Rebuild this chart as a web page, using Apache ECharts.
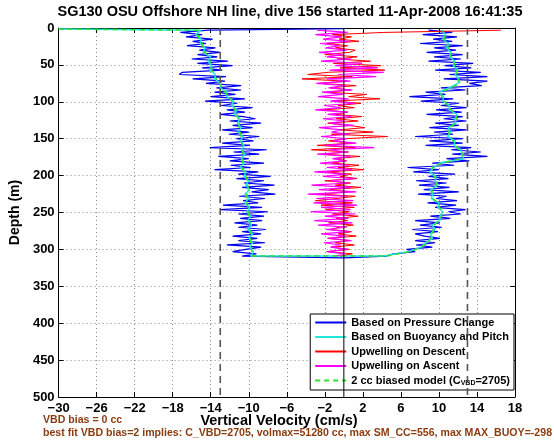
<!DOCTYPE html>
<html><head><meta charset="utf-8">
<script src="https://cdn.jsdelivr.net/npm/echarts@6/dist/echarts.min.js"></script>
<style>html,body{margin:0;padding:0;background:#fff}#c{width:554px;height:442px}</style>
</head><body><div id="c"></div><script>
// ---------- data ----------
const titleText = 'SG130 OSU Offshore NH line, dive 156 started 11-Apr-2008 16:41:35';
const xAxisTitle = 'Vertical Velocity (cm/s)';
const xTicks = [-30, -26, -22, -18, -14, -10, -6, -2, 2, 6, 10, 14, 18];
const yTicks = [0, 50, 100, 150, 200, 250, 300, 350, 400, 450, 500];
const seriesNames = ['Based on Pressure Change', 'Based on Buoyancy and Pitch', 'Upwelling on Descent', 'Upwelling on Ascent', '2 cc biased model (C_VBD=2705)'];
const refLineVels = [-13, 0, 13];
const noteLines = ['VBD bias = 0 cc', 'best fit VBD bias=2 implies: C_VBD=2705, volmax=51280 cc, max SM_CC=556, max MAX_BUOY=-298'];

const depthGrid = [3,6,9,12,15,18,21,24,27,30,33,36,39,42,45,48,51,54,57,60,63,66,69,72,75,78,81,84,87,90,93,96,99,102,105,108,111,114,117,120,123,126,129,132,135,138,141,144,147,150,153,156,159,162,165,168,171,174,177,180,183,186,189,192,195,198,201,204,207,210,213,216,219,222,225,228,231,234,237,240,243,246,249,252,255,258,261,264,267,270,273,276,279,282,285,288,291,294,297,300,303,306,309];
const smoothDepths = [3,9,15,21,27,33,39,45,51,57,63,69,75,81,87,93,99,105,111,117,123,129,135,141,147,153,159,165,171,177,183,189,195,201,207,213,219,225,231,237,243,249,255,261,267,273,279,285,291,297,303,309];

// pressure-change velocity, descent (by depthGrid)
const blueDescent = [-14.2,-17.2,-14.9,-16.6,-13.8,-15.9,-14.5,-16.5,-13.5,-15.2,
 -13.0,-15.4,-13.3,-16.0,-12.2,-15.4,-11.7,-14.9,-12.8,-17.0,
 -17.3,-12.4,-15.9,-12.5,-14.5,-10.8,-13.4,-10.8,-13.6,-11.4,
 -14.0,-10.4,-14.6,-11.2,-12.9,-9.6,-12.3,-10.4,-13.0,-10.6,
 -9.3,-12.0,-8.7,-11.7,-9.6,-12.8,-10.0,-12.1,-8.9,-11.3,
 -9.5,-12.8,-9.9,-14.1,-8.1,-11.6,-8.9,-13.2,-10.0,-12.0,
 -8.4,-11.9,-9.8,-13.6,-9.0,-11.1,-7.7,-11.3,-8.4,-10.5,
 -7.3,-10.7,-7.9,-9.7,-7.2,-11.0,-8.3,-10.6,-9.0,-12.7,
 -8.6,-13.0,-8.0,-11.1,-8.4,-10.9,-8.6,-11.5,-9.1,-11.1,
 -8.2,-10.7,-8.7,-11.7,-9.1,-11.1,-8.3,-12.3,-8.7,-10.3,
 -11.7,-9.2,-10.7];
// pressure-change velocity, ascent (by depthGrid)
const blueAscent = [8.9,11.4,8.3,11.9,9.4,11.4,8.0,12.5,9.5,11.8,
 8.7,12.5,9.5,12.3,8.9,13.6,10.6,13.4,9.6,14.4,
 11.1,15.1,10.5,15.1,13.2,14.5,10.2,12.8,8.6,10.7,
 6.9,11.5,8.1,12.1,10.2,12.9,9.7,12.4,8.7,12.5,
 10.5,12.9,9.6,12.1,9.0,12.9,9.5,11.5,7.5,12.5,
 9.0,12.5,8.6,13.4,11.3,14.4,11.4,15.1,10.8,13.2,
 9.3,11.6,6.7,10.0,7.3,11.7,8.9,11.0,7.6,10.8,
 7.9,11.1,8.4,12.1,7.8,10.8,9.7,11.9,8.8,11.8,
 9.6,12.8,11.0,12.3,9.1,11.2,7.5,10.1,8.0,10.3,
 7.2,9.9,7.5,8.5,10.1,7.5,9.6,7.6,9.3,6.6,
 7.5,5.2,4.5];
const blueSurface = [0, 1];      // [velocity, depth]
const blueApex = [0, 311.5];     // [velocity, depth]

// buoyancy & pitch velocity (by smoothDepths)
const cyanDescent = [-15.0,-15.6,-15.0,-15.1,-14.6,-14.8,-14.0,-14.3,-13.9,-14.1,
 -13.5,-13.6,-12.9,-13.0,-12.3,-12.3,-11.6,-11.8,-11.3,-11.5,
 -10.9,-11.2,-10.8,-11.1,-10.6,-10.9,-10.5,-10.8,-10.4,-10.8,
 -10.5,-10.9,-10.3,-10.5,-10.0,-10.3,-9.9,-10.4,-10.0,-10.4,
 -9.9,-10.2,-9.8,-10.1,-9.7,-10.1,-9.6,-10.0,-9.6,-9.9,
 -9.5,-9.8];
const cyanAscent = [10.3,10.7,10.4,11.0,10.8,11.3,11.1,11.7,11.5,12.0,
 11.7,12.1,12.0,11.1,10.0,10.5,10.4,11.1,11.1,11.9,
 11.7,11.8,11.0,11.2,10.9,11.7,11.6,12.3,12.4,12.6,
 10.1,9.5,9.0,9.7,9.6,9.9,9.1,9.4,9.2,10.0,
 9.9,10.4,10.1,10.1,9.3,9.6,9.1,9.3,8.6,8.1,
 6.8,4.2];
const modelDescent = [-15.3,-15.3,-15.2,-14.9,-14.8,-14.6,-14.2,-14.1,-14.0,-13.9,
 -13.6,-13.4,-13.1,-12.8,-12.5,-12.1,-11.8,-11.6,-11.5,-11.3,
 -11.1,-11.0,-11.0,-10.9,-10.8,-10.8,-10.7,-10.6,-10.6,-10.6,
 -10.7,-10.7,-10.5,-10.3,-10.2,-10.1,-10.1,-10.2,-10.2,-10.2,
 -10.1,-10.0,-10.0,-9.9,-9.9,-9.9,-9.8,-9.8,-9.8,-9.7,
 -9.7,-9.7];
const modelAscent = [10.4,10.5,10.6,10.8,11.0,11.1,11.3,11.5,11.7,11.8,
 11.9,12.0,12.2,11.3,10.2,10.3,10.6,10.9,11.3,11.7,
 11.9,11.6,11.2,11.0,11.1,11.5,11.8,12.1,12.6,12.3,
 10.3,9.3,9.2,9.5,9.8,9.7,9.3,9.2,9.4,9.8,
 10.1,10.2,10.3,9.9,9.5,9.4,9.3,9.1,8.8,8.1,
 7.0,4.5];
const smoothSurface = [-30, 1.5]; // [velocity, depth]

// upwelling (by depthGrid)
const upDescent = [16.5,4.2,-1.2,0.8,-0.5,1.6,-1.8,0.4,-0.9,1.2,
 0.6,-2.0,1.4,-0.7,2.8,-1.1,3.9,-0.4,4.3,-1.6,
 -3.8,0.9,-4.4,0.2,-2.6,1.3,-1.4,0.7,-1.9,2.4,
 0.5,3.8,-1.2,1.8,-0.6,1.1,-2.3,0.4,-1.0,1.9,
 -0.8,1.5,-1.7,0.6,2.2,-0.5,3.1,-1.3,4.6,0.2,
 -1.6,0.9,-2.8,1.2,-3.4,0.5,-2.2,1.7,-0.9,0.3,
 -1.3,1.6,-0.6,2.1,-1.8,0.8,-0.4,1.4,-2.0,0.7,
 -0.9,1.8,-1.5,0.5,-2.6,1.2,-0.7,-3.0,0.9,-2.4,
 1.1,-1.9,0.6,-1.2,1.5,-0.8,0.4,-1.6,1.0,-0.5,
 -1.4,0.8,-0.6,1.3,-1.7,0.5,-0.9,1.1,-1.3,0.6,
 -1.8,0.9,-0.4];
const upAscent = [-2.8,0.4,-3.0,-0.2,-2.2,0.6,-2.5,-0.4,-1.9,0.3,
 -2.6,-0.1,-1.8,0.8,-2.4,1.9,-0.9,3.6,-1.5,4.2,
 -0.6,3.4,-1.8,0.7,-2.9,0.2,-1.6,0.9,-2.3,-0.1,
 -2.7,0.5,-1.4,1.2,-2.1,-0.3,-3.0,0.4,-1.7,0.8,
 -2.2,0.1,-1.5,1.0,-2.6,-0.2,-1.3,0.6,-2.4,0.3,
 -1.1,1.3,-2.0,3.2,-1.6,0.4,-2.8,0.7,-1.2,0.2,
 -2.5,0.6,-1.8,0.9,-3.1,0.3,-2.2,1.1,-1.4,0.5,
 -3.4,0.8,-2.6,1.3,-3.8,0.4,-2.9,1.0,-3.2,1.4,
 -2.4,0.7,-3.5,1.2,-2.0,0.5,-3.1,0.9,-2.7,0.3,
 -1.9,0.6,-2.4,0.2,-1.6,0.8,-2.1,-0.3,-1.4,0.4,
 -1.7,0.1,-0.8];

// ---------- build ----------
const pairs = (vals, deps) => vals.map((v, i) => [v, deps[i]]);
const blueData = [blueSurface].concat(pairs(blueDescent, depthGrid), [blueApex], pairs(blueAscent, depthGrid).reverse());
const cyanData = [smoothSurface].concat(pairs(cyanDescent, smoothDepths), pairs(cyanAscent, smoothDepths).reverse());
const modelData = [smoothSurface].concat(pairs(modelDescent, smoothDepths), pairs(modelAscent, smoothDepths).reverse());
const redData = pairs(upDescent, depthGrid);
const magData = pairs(upAscent, depthGrid);

const FONT = 'Liberation Sans, Arial, Helvetica, sans-serif';
const minus = v => String(v).replace('-', '\u2212');
const gridDots = { show: true, lineStyle: { color: '#8a8a8a', width: 1, type: [1, 3] } };

const chart = echarts.init(document.getElementById('c'), null, { renderer: 'canvas' });
const lineBase = { type: 'line', symbol: 'none', showSymbol: false, animation: false, silent: true, clip: true };

const refSeries = refLineVels.map(v => Object.assign({}, lineBase, {
  name: 'ref' + v,
  data: [[v, yTicks[0]], [v, yTicks[yTicks.length - 1]]],
  z: 10,
  lineStyle: v === 0 ? { color: '#000', width: 1 } : { color: '#555', width: 1.6, type: [7, 5] }
}));

chart.setOption({
  animation: false,
  backgroundColor: '#fff',
  textStyle: { fontFamily: FONT },
  grid: { left: 43, right: 39, top: 28, bottom: 45, containLabel: false },
  xAxis: [{
    type: 'value', position: 'bottom', min: xTicks[0], max: xTicks[xTicks.length - 1], interval: 4,
    axisLine: { show: true, onZero: false, lineStyle: { color: '#000', width: 1 } },
    axisTick: { show: true, inside: true, length: 5, lineStyle: { color: '#000' } },
    axisLabel: { color: '#000', fontSize: 13, fontWeight: 'bold', fontFamily: FONT, margin: 5, formatter: minus },
    splitLine: gridDots
  }, {
    type: 'value', position: 'top', min: xTicks[0], max: xTicks[xTicks.length - 1], interval: 4,
    axisLine: { show: true, onZero: false, lineStyle: { color: '#000', width: 1 } },
    axisTick: { show: true, inside: true, length: 5, lineStyle: { color: '#000' } },
    axisLabel: { show: false }, splitLine: { show: false }
  }],
  yAxis: [{
    type: 'value', position: 'left', inverse: true, min: yTicks[0], max: yTicks[yTicks.length - 1], interval: 50,
    axisLine: { show: true, onZero: false, lineStyle: { color: '#000', width: 1 } },
    axisTick: { show: true, inside: true, length: 5, lineStyle: { color: '#000' } },
    axisLabel: { color: '#000', fontSize: 13, fontWeight: 'bold', fontFamily: FONT, margin: 4 },
    splitLine: gridDots,
    name: 'Depth (m)', nameLocation: 'middle', nameGap: 32, nameRotate: 90,
    nameTextStyle: { color: '#000', fontSize: 14, fontWeight: 'bold', fontFamily: FONT }
  }, {
    type: 'value', position: 'right', inverse: true, min: yTicks[0], max: yTicks[yTicks.length - 1], interval: 50,
    axisLine: { show: true, onZero: false, lineStyle: { color: '#000', width: 1 } },
    axisTick: { show: true, inside: true, length: 5, lineStyle: { color: '#000' } },
    axisLabel: { show: false }, splitLine: { show: false }
  }],
  legend: {
    data: seriesNames, orient: 'vertical', right: 40, bottom: 52,
    backgroundColor: '#fff', borderColor: '#000', borderWidth: 1, borderRadius: 0,
    padding: [3, 4, 3, 4], itemGap: 3.5, itemWidth: 31, itemHeight: 11,
    lineStyle: { width: 2 },
    itemStyle: { opacity: 0 },
    selectedMode: false,
    textStyle: { color: '#000', fontSize: 11, fontWeight: 'bold', fontFamily: FONT,
      rich: {
        n: { fontSize: 11, fontWeight: 'bold', fontFamily: FONT, color: '#000' },
        sub: { fontSize: 7, fontWeight: 'bold', fontFamily: FONT, color: '#000', verticalAlign: 'bottom', padding: [6, 0, 0, 0] }
      } },
    formatter: n => n === seriesNames[4] ? '{n|2 cc biased model (C}{sub|VBD}{n|=2705)}' : n
  },
  graphic: [
    { type: 'text', x: 290, y: 4, style: { text: titleText, fill: '#000', font: 'bold 14.5px ' + FONT, textAlign: 'center', textVerticalAlign: 'top' } },
    { type: 'text', x: 279, y: 421, style: { text: xAxisTitle, fill: '#000', font: 'bold 14.5px ' + FONT, textAlign: 'center', textVerticalAlign: 'middle' } },
    { type: 'text', x: 43, y: 415, style: { text: noteLines[0], fill: '#8a3c10', font: 'bold 10.6px ' + FONT, textAlign: 'left', textVerticalAlign: 'top' } },
    { type: 'text', x: 43, y: 428, style: { text: noteLines[1], fill: '#8a3c10', font: 'bold 10.6px ' + FONT, textAlign: 'left', textVerticalAlign: 'top' } }
  ],
  series: [
    Object.assign({}, lineBase, { name: seriesNames[0], data: blueData, z: 2, lineStyle: { color: '#0000ee', width: 1.2 }, itemStyle: { color: '#0000ee' } }),
    Object.assign({}, lineBase, { name: seriesNames[1], data: cyanData, z: 3, lineStyle: { color: '#22e6dc', width: 1.5 }, itemStyle: { color: '#22e6dc' } }),
    Object.assign({}, lineBase, { name: seriesNames[2], data: redData, z: 4, lineStyle: { color: '#ff0000', width: 1 }, itemStyle: { color: '#ff0000' } }),
    Object.assign({}, lineBase, { name: seriesNames[3], data: magData, z: 5, lineStyle: { color: '#ff00ff', width: 1.2 }, itemStyle: { color: '#ff00ff' } }),
    Object.assign({}, lineBase, { name: seriesNames[4], data: modelData, z: 6, lineStyle: { color: '#33dd33', width: 1.5, type: [5, 4] }, itemStyle: { color: '#33dd33' } })
  ].concat(refSeries)
});
</script></body></html>
